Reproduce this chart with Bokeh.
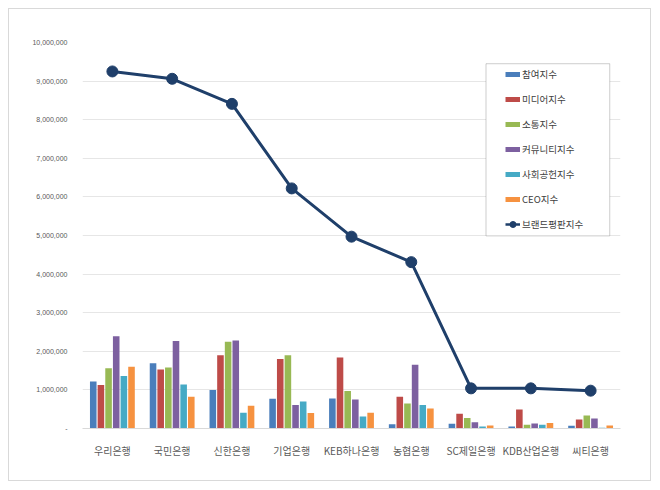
from bokeh.plotting import figure
from bokeh.models import (Range1d, FixedTicker, Legend, LegendItem, BoxAnnotation)
from bokeh.embed import file_html
from bokeh.resources import INLINE

banks = ["우리은행", "국민은행", "신한은행", "기업은행", "KEB하나은행",
         "농협은행", "SC제일은행", "KDB산업은행", "씨티은행"]

# 지수별 값
participation = [1220000, 1690000, 1000000, 770000, 780000, 110000, 120000, 50000, 70000]
media = [1130000, 1530000, 1900000, 1800000, 1840000, 820000, 380000, 490000, 230000]
communication = [1560000, 1580000, 2250000, 1900000, 970000, 650000, 270000, 100000, 340000]
community = [2390000, 2270000, 2280000, 610000, 750000, 1650000, 160000, 130000, 260000]
social = [1360000, 1140000, 410000, 700000, 310000, 610000, 50000, 100000, 20000]
ceo = [1600000, 820000, 590000, 400000, 410000, 520000, 80000, 140000, 80000]
brand = [9250000, 9060000, 8410000, 6220000, 4970000, 4310000, 1040000, 1040000, 980000]

series_names = ["참여지수", "미디어지수", "소통지수", "커뮤니티지수", "사회공헌지수", "CEO지수"]
series_vals = [participation, media, communication, community, social, ceo]
colors = ["#4A7EBB", "#BE4B48", "#98B954", "#7D60A0", "#46AAC5", "#F69240"]
line_color = "#1F3F6A"

y_ticks = [0, 1000000, 2000000, 3000000, 4000000, 5000000,
           6000000, 7000000, 8000000, 9000000, 10000000]

FONT = "Noto Sans CJK KR"
nan = float("nan")

p = figure(width=643, height=473, output_backend="svg", toolbar_location=None,
           x_range=Range1d(-0.5, 8.5), y_range=Range1d(0, 10000000),
           min_border_left=73, min_border_right=32, min_border_top=33, min_border_bottom=54)
p.margin = (8, 8, 8, 8)
p.styles = {"border": "1px solid #D9D9D9", "box-sizing": "border-box"}
p.outline_line_color = None

xs = list(range(len(banks)))
pitch = 0.128
for k, (vals, col) in enumerate(zip(series_vals, colors)):
    off = (k - 2.5) * pitch
    p.vbar(x=[x + off for x in xs], top=vals, width=0.11, fill_color=col, line_color=None)

p.line(xs, brand, line_color=line_color, line_width=3)
p.scatter(xs, brand, size=11, fill_color=line_color, line_color=line_color)

# axes
p.xaxis.ticker = FixedTicker(ticks=xs)
p.xaxis.major_label_overrides = {i: b for i, b in enumerate(banks)}
p.xaxis.major_label_text_font = FONT
p.xaxis.major_label_text_font_size = "10px"
p.xaxis.major_label_text_color = "#595959"
p.xaxis.major_label_standoff = 8
p.xaxis.axis_line_color = "#D9D9D9"
p.xaxis.major_tick_line_color = None
p.xaxis.minor_tick_line_color = None

p.yaxis.ticker = FixedTicker(ticks=y_ticks)
p.yaxis.major_label_overrides = {v: (f"{v:,}" if v else "-") for v in y_ticks}
p.yaxis.major_label_text_font = "Liberation Sans"
p.yaxis.major_label_text_font_size = "7px"
p.yaxis.major_label_text_color = "#595959"
p.yaxis.major_label_standoff = 9
p.yaxis.axis_line_color = None
p.yaxis.major_tick_line_color = None
p.yaxis.minor_tick_line_color = None

p.xgrid.grid_line_color = None
p.ygrid.grid_line_color = "#E6E6E6"

# legend
box = BoxAnnotation(left=6.25, right=8.32, bottom=4990000, top=9450000,
                    fill_color="white", fill_alpha=1, line_color="#595959", line_width=1)
p.add_layout(box)

items = []
for name, col in zip(series_names, colors):
    r = p.line([nan], [nan], line_color=col, line_width=5)
    items.append(LegendItem(label=name, renderers=[r]))
rl = p.line([nan], [nan], line_color=line_color, line_width=2.5)
rs = p.scatter([nan], [nan], size=6, fill_color=line_color, line_color=line_color)
items.append(LegendItem(label="브랜드평판지수", renderers=[rl, rs]))

legend = Legend(items=items, location=(423, 194), padding=0, margin=0,
                border_line_color=None, background_fill_alpha=0,
                glyph_width=15, glyph_height=20, label_height=20, spacing=5,
                label_standoff=2, label_text_font=FONT, label_text_font_size="9.5px",
                label_text_color="#404040")
p.add_layout(legend)

open("out.html", "w").write(file_html(p, INLINE))
